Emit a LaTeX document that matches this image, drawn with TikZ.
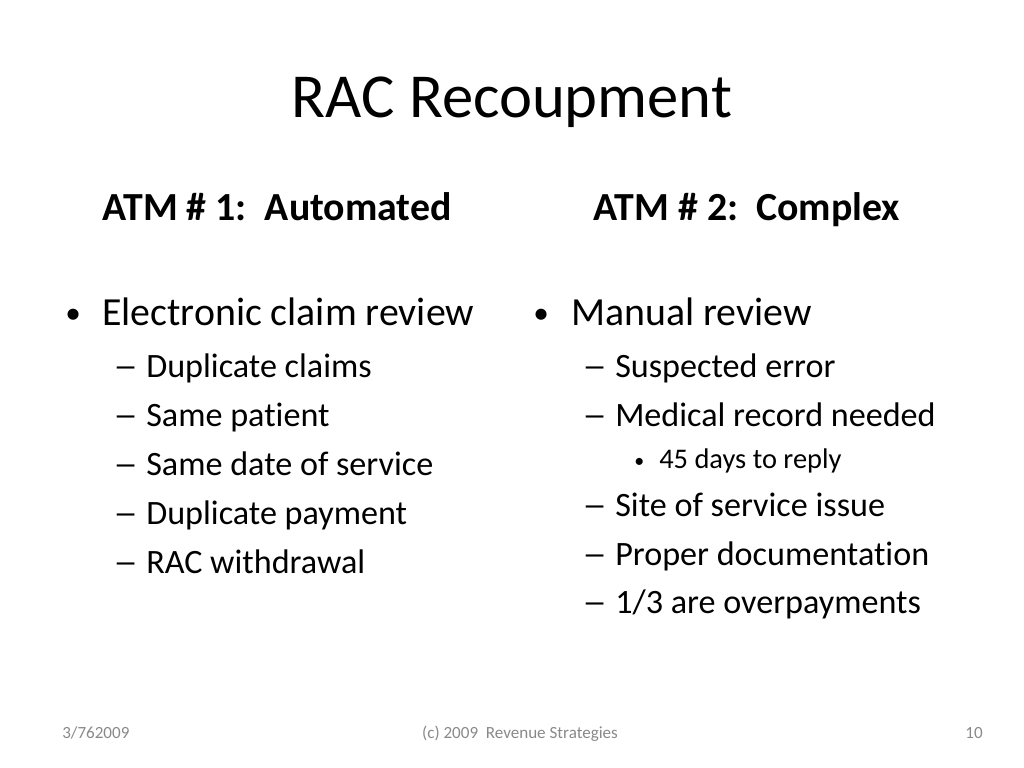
\documentclass[tikz,border=0pt]{standalone}
\usepackage{fontspec}
\setmainfont{Carlito}[RawFeature=-liga]
\definecolor{footgray}{HTML}{898989}
\newcommand{\longdash}{\scalebox{1.45}[1]{–}}
\tikzset{
  every node/.style={inner sep=0pt},
  ttl/.style={anchor=base, font=\fontsize{44}{44}\selectfont},
  head/.style={anchor=base, font=\fontsize{28}{28}\selectfont\bfseries},
  lone/.style={anchor=base west, font=\fontsize{28}{28}\selectfont},
  ltwo/.style={anchor=base west, font=\fontsize{24}{24}\selectfont},
  lthree/.style={anchor=base west, font=\fontsize{20}{20}\selectfont},
  bigdot/.style={anchor=base west, font=\fontsize{22}{22}\selectfont},
  smalldot/.style={anchor=base west, font=\fontsize{14}{14}\selectfont},
  dashmark/.style={anchor=base west, font=\fontsize{24}{24}\selectfont},
  foot/.style={font=\fontsize{12}{12}\selectfont, text=footgray}
}
\begin{document}
\begin{tikzpicture}[x=0.703125pt, y=-0.703125pt]
\useasboundingbox (0,0) rectangle (1024,768);
% title
\node[ttl] (title) at (512,118) {RAC Recoupment};
\node[head] (h1) at (277,221) {ATM \# 1:\ \ Automated};
\node[head] (h2) at (747,221) {ATM \# 2:\ \ Complex};

% left column
\node[bigdot] (l1b) at (65,324) {•};
\node[lone] (l1) at (102,326) {Electronic claim review};
\foreach \y/\t [count=\i] in {377/{Duplicate claims}, 426/{Same patient}, 475/{Same date of service}, 524/{Duplicate payment}, 573/{RAC withdrawal}}
{
  \node[dashmark] (ld\i) at (113,\y) {\longdash};
  \node[ltwo] (lt\i) at (146,\y) {\t};
}

% right column
\node[bigdot] (r1b) at (533,324) {•};
\node[lone] (r1) at (571,326) {Manual review};
\foreach \y/\t [count=\i] in {377/{Suspected error}, 426/{Medical record needed}, 516/{Site of service issue}, 565/{Proper documentation}, 613/{1/3 are overpayments}}
{
  \node[dashmark] (rd\i) at (582,\y) {\longdash};
  \node[ltwo] (rt\i) at (615,\y) {\t};
}
\node[smalldot] (r3b) at (634,467) {•};
\node[lthree] (r3) at (659,468) {45 days to reply};

% footer
\node[foot, anchor=base west] (date) at (62,738) {3/762009};
\node[foot, anchor=base] (copy) at (520,738) {(c) 2009\ \ Revenue Strategies};
\node[foot, anchor=base east] (page) at (983,738) {10};
\end{tikzpicture}
\end{document}
